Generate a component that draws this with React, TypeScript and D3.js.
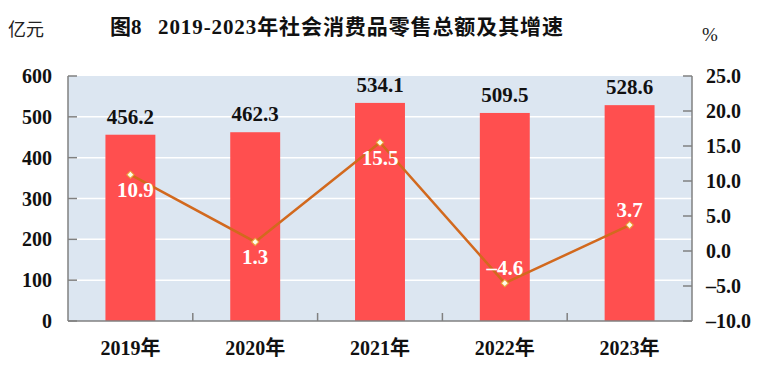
import React from 'react'
import * as d3 from 'd3'

// 2019-2023年社会消费品零售总额及其增速
const years = ['2019年', '2020年', '2021年', '2022年', '2023年']
const sales = [456.2, 462.3, 534.1, 509.5, 528.6]
const growth = [10.9, 1.3, 15.5, -4.6, 3.7]
const leftTicks = [0, 100, 200, 300, 400, 500, 600]
const rightTicks = [-10, -5, 0, 5, 10, 15, 20, 25]

const W = 768
const H = 384
const margin = {top: 76, right: 76, bottom: 63, left: 68}
const serif = "'Liberation Serif', 'Times New Roman', 'Noto Sans CJK SC', serif"

const fmtRight = (v: number) => (v < 0 ? '\u2013' + Math.abs(v).toFixed(1) : v.toFixed(1))

const App = () => {
  const x0 = margin.left
  const x1 = W - margin.right
  const y0 = H - margin.bottom
  const y1 = margin.top

  const x = d3.scaleBand().domain(years).range([x0, x1]).paddingInner(0.6).paddingOuter(0.3)
  const yL = d3.scaleLinear().domain([0, 600]).range([y0, y1])
  const yR = d3.scaleLinear().domain([-10, 25]).range([y0, y1])
  const step = (x1 - x0) / years.length
  const cx = (d: string) => (x(d) as number) + x.bandwidth() / 2

  const line = d3.line<number>()
    .x((_, i) => cx(years[i]))
    .y(d => yR(d))

  const marker = d3.symbol().type(d3.symbolSquare).size(26)()

  // growth labels: below the point unless it sits in a dip
  const side = [1, 1, 1, -1, -1]

  return (
    <svg width={W} height={H} style={{position: 'absolute', left: 0, top: 0, background: '#fff'}}
      fontFamily={serif}>
      <text x={8} y={36} fontSize={18} fontFamily="'Noto Sans CJK SC', sans-serif" fill="#222">亿元</text>
      <text x={110} y={34} fontSize={21} fontWeight="bold" fill="#111">
        <tspan>图8</tspan>
        <tspan x={158} textLength={405} lengthAdjust="spacing">2019-2023年社会消费品零售总额及其增速</tspan>
      </text>
      <text x={702} y={41} fontSize={19} fill="#222">%</text>

      <rect x={x0} y={y1} width={x1 - x0} height={y0 - y1} fill="#dce6f1" />
      {leftTicks.slice(1, -1).map(t => (
        <line key={t} x1={x0} x2={x1} y1={yL(t)} y2={yL(t)} stroke="#fff" strokeWidth={1.5} />
      ))}

      {years.map((d, i) => (
        <g key={d}>
          <rect x={x(d)} y={yL(sales[i])} width={x.bandwidth()} height={y0 - yL(sales[i])} fill="#ff4f4f" />
          <text x={cx(d)} y={yL(sales[i]) - 11} textAnchor="middle" fontSize={21} fontWeight="bold" fill="#111">
            {sales[i].toFixed(1)}
          </text>
        </g>
      ))}

      <path d={line(growth) || ''} fill="none" stroke="#d2691e" strokeWidth={2.5} />
      {growth.map((v, i) => (
        <g key={i}>
          <path d={marker || ''} transform={`translate(${cx(years[i])},${yR(v)}) rotate(45)`}
            fill="#fffbe8" stroke="#eaa23a" strokeWidth={1} />
          <text x={cx(years[i]) + (i === 0 ? 5 : 0)} y={yR(v) + (side[i] > 0 ? 22 : -8)}
            textAnchor="middle" fontSize={21} fontWeight="bold" fill="#fff">
            {fmtRight(v)}
          </text>
        </g>
      ))}

      {/* axes */}
      <g stroke="#808080" strokeWidth={1.5} fill="none">
        <line x1={x0} x2={x0} y1={y1} y2={y0} />
        <line x1={x1} x2={x1} y1={y1} y2={y0} />
        <line x1={x0} x2={x1} y1={y0} y2={y0} />
        {leftTicks.map(t => <line key={'l' + t} x1={x0} x2={x0 + 9} y1={yL(t)} y2={yL(t)} />)}
        {rightTicks.map(t => <line key={'r' + t} x1={x1 - 9} x2={x1} y1={yR(t)} y2={yR(t)} />)}
        {years.slice(1).map((_, i) => (
          <line key={'c' + i} x1={x0 + step * (i + 1)} x2={x0 + step * (i + 1)} y1={y0} y2={y0 - 8} />
        ))}
      </g>

      {leftTicks.map(t => (
        <text key={t} x={52} y={yL(t)} dy="0.35em" textAnchor="end" fontSize={20} fontWeight="bold" fill="#111">
          {t}
        </text>
      ))}
      {rightTicks.map(t => (
        <text key={t} x={706} y={yR(t)} dy="0.35em" fontSize={20} fontWeight="bold" fill="#111">
          {fmtRight(t)}
        </text>
      ))}
      {years.map(d => (
        <text key={d} x={cx(d)} y={355} textAnchor="middle" fontSize={20} fontWeight="bold" fill="#111">
          {d}
        </text>
      ))}
    </svg>
  )
}

export default App
